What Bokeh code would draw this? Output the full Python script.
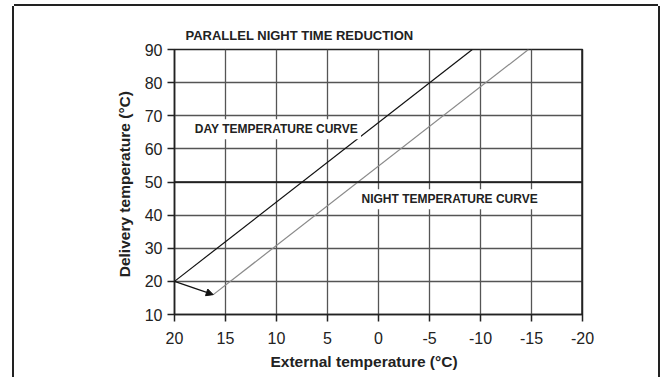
import numpy as np
from bokeh.plotting import figure
from bokeh.models import Range1d, FixedTicker, Label, Arrow, NormalHead, Span, Title
from bokeh.embed import file_html
from bokeh.resources import INLINE

# ---- data ----
x_ticks = [20, 15, 10, 5, 0, -5, -10, -15, -20]
y_ticks = [10, 20, 30, 40, 50, 60, 70, 80, 90]
day_x = [20, -9.2]
day_y = [20, 90]
night_x = [16.2, -14.7]
night_y = [16, 90]
arrow_from = [20, 20]
arrow_to = [16.2, 16]
title_text = "PARALLEL NIGHT TIME REDUCTION"
day_label = "DAY TEMPERATURE CURVE"
night_label = "NIGHT TEMPERATURE CURVE"
x_title = "External temperature  (°C)"
y_title = "Delivery temperature  (°C)"

FONT = "Liberation Sans"
INK = "#222222"
GRID = "#555555"

p = figure(width=644, height=371,
           x_range=Range1d(20, -20), y_range=Range1d(10, 90),
           output_backend="svg", toolbar_location=None,
           min_border_left=160, min_border_right=76,
           min_border_top=43, min_border_bottom=63)
p.margin = (6, 0, 0, 14)
p.styles = {"box-shadow": "-2px 0 0 0 #222222, 2px 0 0 0 #222222, 0 -2px 0 0 #222222"}
p.background_fill_color = "white"
p.border_fill_color = "white"
p.outline_line_color = INK
p.outline_line_width = 1.5

for ax in (p.xaxis[0], p.yaxis[0]):
    ax.axis_line_color = INK
    ax.axis_line_width = 1.5
    ax.major_tick_line_color = INK
    ax.major_tick_line_width = 1.5
    ax.major_tick_out = 7
    ax.major_tick_in = 0
    ax.minor_tick_line_color = None
    ax.major_label_text_font = FONT
    ax.major_label_text_font_size = "16px"
    ax.major_label_text_color = INK

p.xaxis.ticker = FixedTicker(ticks=x_ticks)
p.yaxis.ticker = FixedTicker(ticks=y_ticks)
p.xaxis.major_label_overrides = {t: str(t) for t in x_ticks}
p.yaxis.major_label_overrides = {t: str(t) for t in y_ticks}
p.xaxis.major_label_standoff = 10
p.yaxis.major_label_standoff = 5

p.xgrid.ticker = FixedTicker(ticks=x_ticks)
p.ygrid.ticker = FixedTicker(ticks=y_ticks)
for g in (p.xgrid[0], p.ygrid[0]):
    g.grid_line_color = GRID
    g.grid_line_width = 1.3

p.add_layout(Span(location=50, dimension="width", line_color="#111111", line_width=1.3))
p.add_layout(Span(location=x_ticks[-1], dimension="height", line_color=INK, line_width=2.5))

# curves
p.line(day_x, day_y, line_color="#111111", line_width=1.2)
p.line(night_x, night_y, line_color="#8a8a8a", line_width=1.2)
p.add_layout(Arrow(x_start=arrow_from[0], y_start=arrow_from[1],
                   x_end=arrow_to[0], y_end=arrow_to[1],
                   line_color="#111111", line_width=1.2,
                   end=NormalHead(size=7, fill_color="#111111", line_color="#111111")))

# curve labels with white background
p.add_layout(Label(x=18.3, y=65.9, text=day_label, text_font=FONT,
                   text_font_style="bold", text_font_size="12px", text_color=INK,
                   text_baseline="middle", text_align="left",
                   background_fill_color="white", padding=3))
p.add_layout(Label(x=1.96, y=44.8, text=night_label, text_font=FONT,
                   text_font_style="bold", text_font_size="12px", text_color=INK,
                   text_baseline="middle", text_align="left",
                   background_fill_color="white", padding=3))

# title and axis titles
p.title.text = title_text
p.title.text_font = FONT
p.title.text_font_style = "bold"
p.title.text_font_size = "13px"
p.title.text_color = INK
p.title.align = "left"
p.title.offset = 11
p.title.standoff = 14

p.add_layout(Title(text=x_title, text_font=FONT, text_font_style="bold",
                   text_font_size="15.5px", text_color=INK,
                   align="left", offset=96, standoff=9), "below")
p.add_layout(Title(text=y_title, text_font=FONT, text_font_style="bold",
                   text_font_size="15.5px", text_color=INK,
                   align="center", standoff=18), "left")

open("out.html", "w").write(file_html(p, INLINE))
